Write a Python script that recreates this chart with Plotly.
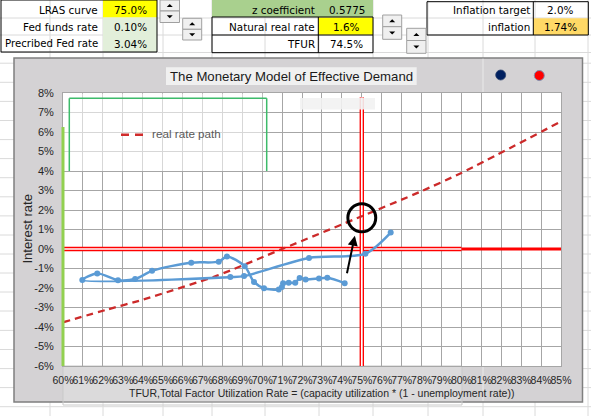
import plotly.graph_objects as go

# ---------------- data ----------------
# table values
lras_curve = 75.0
fed_funds = 0.10
prescribed_fed = 3.04
z_coef = 0.5775
natural_real_rate = 1.6
tfur_now = 74.5
inflation_target = 2.0
inflation = 1.74

# observed path: TFUR (%) vs real interest rate (%)
tfur = [76.45, 75.18, 72.35, 69.09, 68.40, 60.97, 61.72, 62.76, 63.62, 64.47,
        66.44, 67.82, 68.23, 69.12, 69.59, 70.09, 70.83, 70.99, 71.05, 71.33,
        71.66, 71.88, 72.18, 72.85, 73.27, 74.14]
real_rate = [0.84, -0.24, -0.46, -1.39, -1.44, -1.59, -1.25, -1.60, -1.54, -1.12,
             -0.70, -0.65, -0.38, -0.88, -1.69, -2.01, -2.08, -1.95, -1.76, -1.73,
             -1.73, -1.49, -1.56, -1.51, -1.48, -1.75]

# real rate path (dashed)
path_tfur = [60.0, 62.2, 64.0, 67.7, 71.0, 75.0, 77.9, 80.0, 85.0]
path_rate = [-3.76, -3.11, -2.60, -1.38, 0.0, 1.68, 2.92, 3.90, 6.54]

# arrow (from, to)
arrow_from = [74.24, -1.32]
arrow_to = [74.65, 0.68]

x_ticks = list(range(60, 86))
x_tick_labels = ["60%", "61%", "62%", "63%", "64%", "65%", "66%", "67%", "68%",
                 "69%", "70%", "71%", "72%", "73%", "74%", "75%", "76%", "77%",
                 "78%", "79%", "80%", "81%", "82%", "83%", "84%", "85%"]
y_ticks = list(range(-6, 9))
y_tick_labels = ["-6%", "-5%", "-4%", "-3%", "-2%", "-1%", "0%", "1%", "2%",
                 "3%", "4%", "5%", "6%", "7%", "8%"]

# ---------------- geometry helpers ----------------
W, H = 591, 416
ML, MR, MT, MB = 63, 30, 93, 50
PW = W - ML - MR
PH = H - MT - MB


def px(x):
    return (x - ML) / PW


def py(y):
    return (H - MB - y) / PH


shapes = []
annots = []


def rect(x0, y0, x1, y1, fill="rgba(0,0,0,0)", line=None, lw=1, layer="above"):
    shapes.append(dict(type="rect", xref="paper", yref="paper",
                       x0=px(x0), x1=px(x1), y0=py(y1), y1=py(y0),
                       fillcolor=fill,
                       line=dict(color=line if line else "rgba(0,0,0,0)", width=lw if line else 0),
                       layer=layer))


def seg(x0, y0, x1, y1, color, w=1, layer="above", dash=None):
    ln = dict(color=color, width=w)
    if dash:
        ln["dash"] = dash
    shapes.append(dict(type="line", xref="paper", yref="paper",
                       x0=px(x0), x1=px(x1), y0=py(y0), y1=py(y1),
                       line=ln, layer=layer))


def text(x, y, s, anchor="right", size=10, color="#000000", family="DejaVu Sans"):
    annots.append(dict(xref="paper", yref="paper", x=px(x), y=py(y), text=s,
                       showarrow=False, xanchor=anchor, yanchor="middle",
                       font=dict(family=family, size=size, color=color)))


# ---------------- spreadsheet background ----------------
grid_c = "#dadada"
for yy in [18, 35, 52.5, 63.2, 82.3, 101.4, 120.5, 139.6, 158.6, 177.7, 196.8,
           215.9, 235, 254, 273, 292, 311, 330.4, 349.5, 368.6, 387.6, 406.7]:
    seg(0, yy, W, yy, grid_c, 1, "below")
for xx in [50, 103, 163, 212, 265, 319, 373, 428, 483, 535, 588]:
    seg(xx, 0, xx, H, grid_c, 1, "below")

# chart frame
rect(14, 58, 582.5, 402, fill="#d4d2d4", line="#7f7f7f", lw=1.5, layer="below")
# white plot area
rect(63, 93, 561, 366, fill="#ffffff", layer="below")
# overlay box in axis-label area
rect(63, 366, 462, 405, fill="rgba(255,255,255,0.18)", line="#c9c9c9", lw=1, layer="below")
seg(483, 58.8, 483, 93, "#e6e6e6", 1.2, "below")
seg(483, 366, 483, 401, "#e6e6e6", 1.2, "below")

# ---------------- top tables ----------------
# table 1
rect(103, 0, 157, 17.5, fill="#ffff00")
rect(103, 17.5, 157, 52, fill="#e2efda")
rect(1, 0, 157, 52, line="#000000", lw=1)
text(100, 10, "LRAS curve", size=10.4)
text(130, 10, f"{lras_curve:.1f}%", "center", size=10.4)
text(100, 27, "Fed funds rate", size=10.4)
text(130, 27, f"{fed_funds:.2f}%", "center", size=10.4)
text(100, 44, "Precribed Fed rate", size=10.2)
text(130, 44, f"{prescribed_fed:.2f}%", "center", size=10.4)

# table 2
rect(212, 0, 373, 17, fill="#a9d08e")
rect(318.3, 17.5, 373, 34.8, fill="#ffff00")
rect(212, 17, 373, 52.7, line="#000000", lw=1)
seg(318.3, 17, 318.3, 52.7, "#000000", 1)
seg(212, 35, 373, 35, "#000000", 1)
text(316.5, 9.5, "z coefficient", size=10.4)
text(346.5, 9.5, f"{z_coef:.4f}", "center", size=10.4)
text(316.5, 26.7, "Natural real rate", size=10.4)
text(346.5, 26.7, f"{natural_real_rate:.1f}%", "center", size=10.4)
text(316.5, 44, "TFUR", size=10.4)
text(346.5, 44, f"{tfur_now:.1f}%", "center", size=10.4)

# table 3
rect(533.3, 18.3, 588.3, 35, fill="#ffd966")
rect(427, 1.7, 588.3, 35, line="#000000", lw=1)
seg(533.3, 1.7, 533.3, 35, "#000000", 1)
text(531.5, 10, "Inflation target", size=10.4)
text(560.7, 10, f"{inflation_target:.1f}%", "center", size=10.4)
text(531.5, 27, "inflation", size=10.4)
text(560.7, 27, f"{inflation:.2f}%", "center", size=10.4)


# spinners
def spinner(x0, x1, y0, ymid, y1):
    rect(x0, y0, x1, ymid, fill="#f0f0f0", line="#a0a0a0", lw=1)
    rect(x0, ymid, x1, y1, fill="#f0f0f0", line="#a0a0a0", lw=1)
    cx = (x0 + x1) / 2
    cu = (y0 + ymid) / 2
    cd = (ymid + y1) / 2
    up = f"M {px(cx-3)} {py(cu+1.5)} L {px(cx+3)} {py(cu+1.5)} L {px(cx)} {py(cu-1.5)} Z"
    dn = f"M {px(cx-3)} {py(cd-1.5)} L {px(cx+3)} {py(cd-1.5)} L {px(cx)} {py(cd+1.5)} Z"
    for p in (up, dn):
        shapes.append(dict(type="path", xref="paper", yref="paper", path=p,
                           fillcolor="#000000", line=dict(width=0), layer="above"))


spinner(160, 179.5, 0, 11, 22.5)
spinner(182.7, 201.7, 18.3, 29.3, 40)
spinner(382.7, 401.7, 15, 26.7, 39.3)
spinner(406.7, 426, 28.3, 40.5, 53.3)

# ---------------- chart decorations ----------------
rect(166, 67.3, 416.7, 85, fill="#f0f0f0")
text(291.3, 76.3, "The Monetary Model of Effective Demand", "center", 13.2,
     "#1a1a1a", "Liberation Sans")

# legend-area overlay + green box
rect(63.5, 93.5, 262.5, 171, fill="rgba(255,255,255,0.55)")
rect(300, 98, 375, 109.5, fill="rgba(242,242,242,0.9)")
seg(69.3, 98.3, 266.7, 98.3, "#3dbb6a", 1.5)
seg(69.3, 98.3, 69.3, 171, "#3dbb6a", 1.5)
seg(266.7, 98.3, 266.7, 171, "#3dbb6a", 1.5)
seg(121, 134.7, 143, 134.7, "#d02c2c", 2.5, dash="8px,6px")
text(150, 133.5, "real rate path", "left", 11.7, "#595959", "Liberation Sans")

# green left line
seg(63, 127, 63, 366, "#92d050", 3)

# dots
shapes.append(dict(type="circle", xref="paper", yref="paper",
                   x0=px(495.7), x1=px(505.7), y0=py(80), y1=py(70),
                   fillcolor="#002060", line=dict(color="#30456e", width=0.8), layer="above"))
shapes.append(dict(type="circle", xref="paper", yref="paper",
                   x0=px(534.3), x1=px(544.3), y0=py(80.5), y1=py(70.5),
                   fillcolor="#ff0000", line=dict(color="#7f8fb0", width=1), layer="above"))

# axis titles
text(321, 393.3, "TFUR,Total Factor Utilization Rate = (capacity utilization * (1 - unemployment rate))",
     "center", 10.5, "#262626", "Liberation Sans")
annots.append(dict(xref="paper", yref="paper", x=px(27), y=py(229.5), text="Interest rate",
                   showarrow=False, textangle=-90, xanchor="center", yanchor="middle",
                   font=dict(family="Liberation Sans", size=13, color="#262626")))

# circle at target
rx, ry = 0.70, 0.72
shapes.append(dict(type="circle", xref="x", yref="y",
                   x0=lras_curve - rx, x1=lras_curve + rx,
                   y0=natural_real_rate - ry, y1=natural_real_rate + ry,
                   line=dict(color="#000000", width=3), layer="above"))

annots.append(dict(x=arrow_to[0], y=arrow_to[1], ax=arrow_from[0], ay=arrow_from[1],
                   xref="x", yref="y", axref="x", ayref="y", text="", showarrow=True,
                   arrowhead=2, arrowsize=1, arrowwidth=2, arrowcolor="#000000"))

# ---------------- traces ----------------
fig = go.Figure()
red = "#ff0000"
# horizontal zero line (double) to 80%, thick beyond
fig.add_trace(go.Scatter(x=[60, 80], y=[0, 0], mode="lines",
                         line=dict(color=red, width=4.4), hoverinfo="skip"))
fig.add_trace(go.Scatter(x=[60, 80], y=[0, 0], mode="lines",
                         line=dict(color="#ffffff", width=1.7), hoverinfo="skip"))
fig.add_trace(go.Scatter(x=[80, 85], y=[0, 0], mode="lines",
                         line=dict(color=red, width=3.2), hoverinfo="skip"))
# vertical LRAS line (double)
fig.add_trace(go.Scatter(x=[lras_curve, lras_curve], y=[-6, 7.77], mode="lines",
                         line=dict(color=red, width=4.4), hoverinfo="skip"))
fig.add_trace(go.Scatter(x=[lras_curve, lras_curve], y=[-6, 7.77], mode="lines",
                         line=dict(color="#ffffff", width=1.7), hoverinfo="skip"))
# real rate path
fig.add_trace(go.Scatter(x=path_tfur, y=path_rate, mode="lines",
                         line=dict(color="#cc2a2a", width=2.3, dash="7px,5px", shape="spline",
                                   smoothing=0.6),
                         name="real rate path", hoverinfo="skip"))
# observed path
fig.add_trace(go.Scatter(x=tfur, y=real_rate, mode="lines+markers",
                         line=dict(color="#5b9bd5", width=2.5, shape="spline", smoothing=0.8),
                         marker=dict(color="#5b9bd5", size=6), hoverinfo="skip"))

axis_common = dict(showgrid=True, gridcolor="#a6a6a6", gridwidth=1, zeroline=False,
                   showline=True, linecolor="#a6a6a6", linewidth=1, mirror=True,
                   ticks="", fixedrange=True)
fig.update_xaxes(range=[60, 85], tickvals=x_ticks, ticktext=x_tick_labels, tickangle=0,
                 tickfont=dict(family="Liberation Sans", size=10.5, color="#262626"),
                 ticklabelstandoff=4, **axis_common)
fig.update_yaxes(range=[-6, 8], tickvals=y_ticks, ticktext=y_tick_labels,
                 tickfont=dict(family="Liberation Sans", size=11, color="#262626"),
                 ticklabelstandoff=6, **axis_common)

fig.update_layout(width=W, height=H, margin=dict(l=ML, r=MR, t=MT, b=MB, pad=0),
                  paper_bgcolor="#ffffff", plot_bgcolor="#ffffff",
                  showlegend=False, shapes=shapes, annotations=annots)

fig.write_html("out.html")
